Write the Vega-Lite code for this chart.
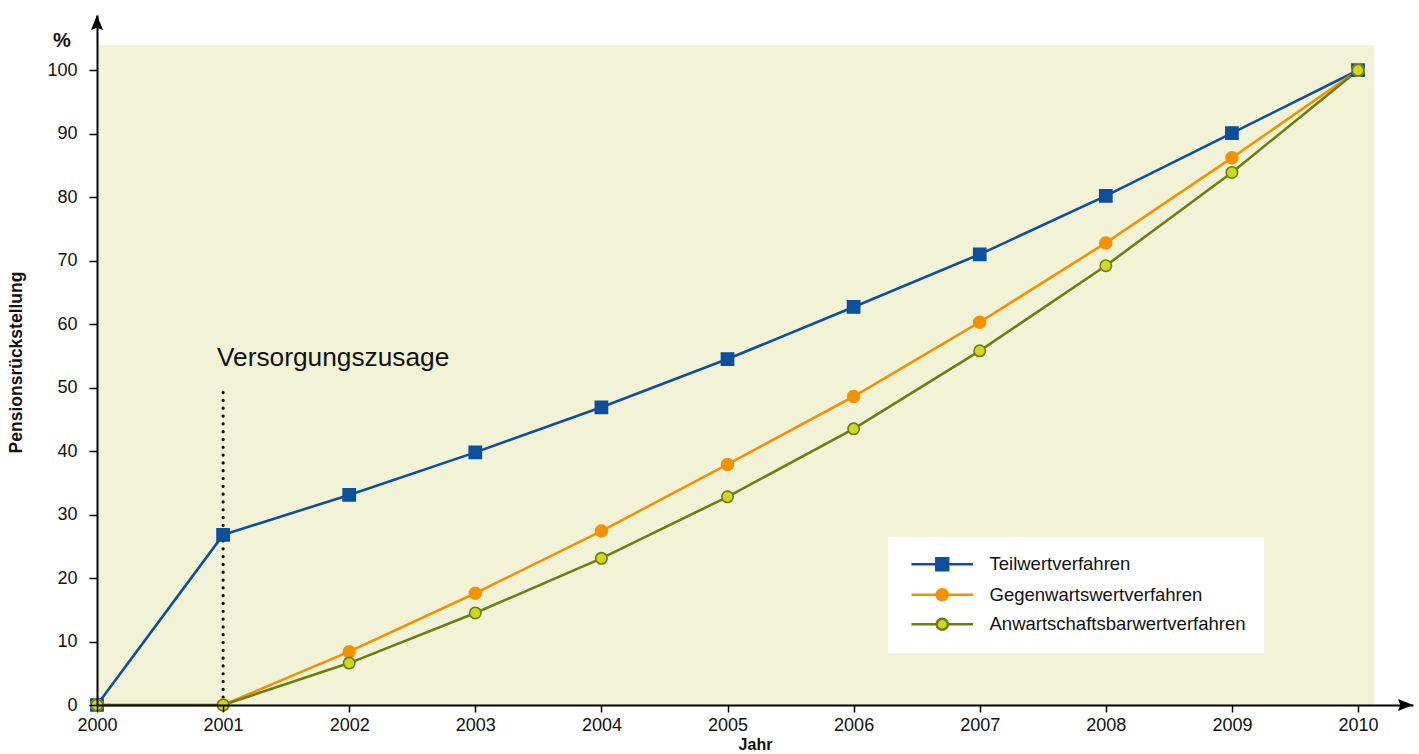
{
  "$schema": "https://vega.github.io/schema/vega-lite/v6.json",
  "width": 1316,
  "height": 690,
  "autosize": {"type": "none"},
  "padding": {"left": 97, "top": 15, "right": 6, "bottom": 49},
  "background": "white",
  "config": {"view": {"stroke": null}, "font": "Liberation Sans"},
  "datasets": {
    "series": [
      {"year": 2000, "series": "Teilwertverfahren", "value": 0},
      {"year": 2001, "series": "Teilwertverfahren", "value": 26.8},
      {"year": 2002, "series": "Teilwertverfahren", "value": 33.1},
      {"year": 2003, "series": "Teilwertverfahren", "value": 39.8},
      {"year": 2004, "series": "Teilwertverfahren", "value": 46.9},
      {"year": 2005, "series": "Teilwertverfahren", "value": 54.5},
      {"year": 2006, "series": "Teilwertverfahren", "value": 62.7},
      {"year": 2007, "series": "Teilwertverfahren", "value": 71.0},
      {"year": 2008, "series": "Teilwertverfahren", "value": 80.2},
      {"year": 2009, "series": "Teilwertverfahren", "value": 90.1},
      {"year": 2010, "series": "Teilwertverfahren", "value": 100},
      {"year": 2000, "series": "Gegenwartswertverfahren", "value": 0},
      {"year": 2001, "series": "Gegenwartswertverfahren", "value": 0},
      {"year": 2002, "series": "Gegenwartswertverfahren", "value": 8.4},
      {"year": 2003, "series": "Gegenwartswertverfahren", "value": 17.6},
      {"year": 2004, "series": "Gegenwartswertverfahren", "value": 27.4},
      {"year": 2005, "series": "Gegenwartswertverfahren", "value": 37.9},
      {"year": 2006, "series": "Gegenwartswertverfahren", "value": 48.6},
      {"year": 2007, "series": "Gegenwartswertverfahren", "value": 60.3},
      {"year": 2008, "series": "Gegenwartswertverfahren", "value": 72.8},
      {"year": 2009, "series": "Gegenwartswertverfahren", "value": 86.2},
      {"year": 2010, "series": "Gegenwartswertverfahren", "value": 100},
      {"year": 2000, "series": "Anwartschaftsbarwertverfahren", "value": 0},
      {"year": 2001, "series": "Anwartschaftsbarwertverfahren", "value": 0},
      {"year": 2002, "series": "Anwartschaftsbarwertverfahren", "value": 6.6},
      {"year": 2003, "series": "Anwartschaftsbarwertverfahren", "value": 14.5},
      {"year": 2004, "series": "Anwartschaftsbarwertverfahren", "value": 23.1},
      {"year": 2005, "series": "Anwartschaftsbarwertverfahren", "value": 32.8},
      {"year": 2006, "series": "Anwartschaftsbarwertverfahren", "value": 43.5},
      {"year": 2007, "series": "Anwartschaftsbarwertverfahren", "value": 55.8},
      {"year": 2008, "series": "Anwartschaftsbarwertverfahren", "value": 69.2},
      {"year": 2009, "series": "Anwartschaftsbarwertverfahren", "value": 83.9},
      {"year": 2010, "series": "Anwartschaftsbarwertverfahren", "value": 100}
    ],
    "bg": [{"year": 2000, "year2": 2010.127, "value": 0, "value2": 104}],
    "anno": [{"year": 2001, "value": 0, "value2": 49.6}],
    "annotext": [{"year": 2000.951, "value": 53.4, "label": "Versorgungszusage"}],
    "unit": [{"year": 1999.722, "value": 104.6, "label": "%"}],
    "arrows": [
      {"year": 2000, "value": 107.5, "dir": "up"},
      {"year": 2010.377, "value": 0, "dir": "right"}
    ]
  },
  "encoding": {
    "x": {"field": "year", "type": "quantitative", "scale": {"domain": [2000, 2010.436], "nice": false, "zero": false},
      "axis": {"title": "Jahr", "values": [2000, 2001, 2002, 2003, 2004, 2005, 2006, 2007, 2008, 2009, 2010], "format": "d",
        "domainColor": "black", "domainWidth": 2, "tickColor": "black", "tickWidth": 1.5, "tickSize": 7,
        "labelFontSize": 18, "labelPadding": 4, "labelColor": "#111", "labelFlush": false, "labelOverlap": false,
        "titleFontSize": 16, "titleFontWeight": "bold", "titleColor": "#111", "titlePadding": 2, "grid": false, "zindex": 1}},
    "y": {"field": "value", "type": "quantitative", "scale": {"domain": [0, 108.7], "nice": false, "zero": false},
      "axis": {"title": "Pensionsrückstellung", "values": [0, 10, 20, 30, 40, 50, 60, 70, 80, 90, 100],
        "domainColor": "black", "domainWidth": 2, "tickColor": "black", "tickWidth": 1.5, "tickSize": 8,
        "labelFontSize": 18, "labelPadding": 12, "labelColor": "#111",
        "titleFontSize": 17.5, "titleFontWeight": "bold", "titleColor": "#111",
        "titleX": -81, "titleY": 347, "titleAngle": 270, "titleAlign": "center", "titleBaseline": "middle",
        "grid": false, "zindex": 1}}
  },
  "layer": [
    {
      "data": {"name": "bg"},
      "mark": {"type": "rect", "fill": "#f2f3d6"},
      "encoding": {
        "x2": {"field": "year2"},
        "y2": {"field": "value2"}
      }
    },
    {
      "data": {"name": "anno"},
      "mark": {"type": "rule", "color": "black", "strokeWidth": 3.2, "strokeDash": [0.01, 7.8], "strokeCap": "round"},
      "encoding": {
        "y2": {"field": "value2"}
      }
    },
    {
      "data": {"name": "series"},
      "mark": {"type": "line", "strokeWidth": 2.6},
      "encoding": {
        "order": {"field": "year", "type": "quantitative"},
        "color": {"field": "series", "type": "nominal",
          "scale": {"domain": ["Teilwertverfahren", "Gegenwartswertverfahren", "Anwartschaftsbarwertverfahren"], "range": ["#0b4f9e", "#f39200", "#6e7d0f"]},
          "legend": {
            "orient": "none", "legendX": 791, "legendY": 522, "title": null,
            "fillColor": "white", "padding": 18,
            "labelFont": "Liberation Sans", "labelFontSize": 18.5, "labelColor": "#111", "labelLimit": 500,
            "symbolSize": 196, "symbolStrokeWidth": 2.5, "symbolOffset": 27, "labelOffset": 38, "rowPadding": 7.5,
            "encode": {"symbols": {"update": {
              "shape": {"signal": "datum.value === 'Teilwertverfahren' ? 'M-4.4,0H-0.85M0.85,0H4.4M-0.85,-0.85H0.85V0.85H-0.85Z' : 'M-4.4,0H-0.8M0.8,0H4.4M-0.8,0A0.8,0.8,0,1,1,0.8,0A0.8,0.8,0,1,1,-0.8,0Z'"},
              "fill": {"signal": "datum.value === 'Teilwertverfahren' ? '#0b4f9e' : datum.value === 'Gegenwartswertverfahren' ? '#f39200' : '#cdd81f'"},
              "stroke": {"signal": "datum.value === 'Teilwertverfahren' ? '#0b4f9e' : datum.value === 'Gegenwartswertverfahren' ? '#f39200' : '#6e7d0f'"},
              "opacity": {"value": 1}
            }}}
          }}
      }
    },
    {
      "data": {"name": "series"},
      "transform": [{"filter": "datum.series === 'Teilwertverfahren'"}],
      "mark": {"type": "point", "shape": "square", "filled": true, "size": 150, "fill": "#0b4f9e", "stroke": "#0b4f9e", "strokeWidth": 1.5, "opacity": 1}
    },
    {
      "data": {"name": "series"},
      "transform": [{"filter": "datum.series === 'Gegenwartswertverfahren'"}],
      "mark": {"type": "point", "shape": "circle", "filled": true, "size": 144, "fill": "#f39200", "stroke": "#f39200", "strokeWidth": 1.5, "opacity": 1}
    },
    {
      "data": {"name": "series"},
      "transform": [{"filter": "datum.series === 'Anwartschaftsbarwertverfahren'"}],
      "mark": {"type": "point", "shape": "circle", "filled": true, "size": 130, "fill": "#cdd81f", "stroke": "#6e7d0f", "strokeWidth": 1.6, "opacity": 1}
    },
    {
      "data": {"name": "annotext"},
      "mark": {"type": "text", "fontSize": 26.3, "align": "left", "baseline": "alphabetic", "color": "#111"},
      "encoding": {
        "text": {"field": "label"}
      }
    },
    {
      "data": {"name": "unit"},
      "mark": {"type": "text", "fontSize": 20, "fontWeight": "bold", "align": "center", "baseline": "middle", "color": "#111"},
      "encoding": {
        "text": {"field": "label"}
      }
    },
    {
      "data": {"name": "arrows"},
      "transform": [{"filter": "datum.dir === 'up'"}],
      "mark": {"type": "point", "filled": true, "size": 225, "color": "black", "opacity": 1, "shape": "M0,-1L0.8,1L0,0.7L-0.8,1Z"}
    },
    {
      "data": {"name": "arrows"},
      "transform": [{"filter": "datum.dir === 'right'"}],
      "mark": {"type": "point", "filled": true, "size": 225, "color": "black", "opacity": 1, "shape": "M1,0L-1,-0.8L-0.7,0L-1,0.8Z"}
    }
  ]
}
